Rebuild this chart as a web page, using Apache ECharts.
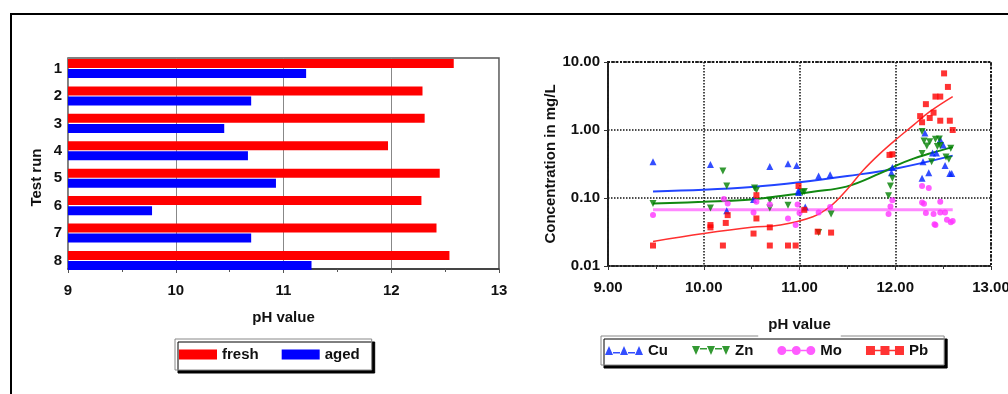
<!DOCTYPE html>
<html>
<head>
<meta charset="utf-8">
<script src="https://cdn.jsdelivr.net/npm/echarts@6/dist/echarts.min.js"></script>
<style>
  html, body { margin: 0; padding: 0; background: #fff; }
  #chart { width: 1008px; height: 394px; }
</style>
</head>
<body>
<div id="chart"></div>
<script>
  // left chart: pH per test run
  var runs = ['1', '2', '3', '4', '5', '6', '7', '8']
  var fresh = [12.58, 12.29, 12.31, 11.97, 12.45, 12.28, 12.42, 12.54]
  var aged = [11.21, 10.70, 10.45, 10.67, 10.93, 9.78, 10.70, 11.26]

  // right chart: [pH, mg/L]
  var cuPoints = [[9.47, 0.34], [10.07, 0.31], [10.24, 0.065], [10.52, 0.095], [10.69, 0.29], [10.88, 0.32],
    [10.97, 0.30], [10.99, 0.13], [10.99, 0.12], [11.06, 0.074], [11.2, 0.21], [11.32, 0.22], [11.97, 0.28],
    [11.96, 0.235], [12.29, 0.34], [12.28, 0.195], [12.31, 0.9], [12.35, 0.235], [12.39, 0.46], [12.43, 0.46],
    [12.47, 0.72], [12.52, 0.30], [12.57, 0.23], [12.59, 0.23], [12.5, 0.6]]
  var znPoints = [[9.47, 0.083], [10.07, 0.071], [10.2, 0.25], [10.24, 0.15], [10.53, 0.14], [10.55, 0.13],
    [10.69, 0.093], [10.69, 0.071], [10.88, 0.078], [11.03, 0.12], [11.05, 0.125], [11.2, 0.031], [11.33, 0.058],
    [11.93, 0.108], [11.95, 0.15], [11.97, 0.195], [12.28, 0.95], [12.28, 0.45], [12.3, 0.69], [12.33, 0.58],
    [12.36, 0.67], [12.38, 0.34], [12.42, 0.73], [12.44, 0.57], [12.46, 0.74], [12.47, 0.59], [12.53, 0.40],
    [12.56, 0.37], [12.58, 0.54]]
  var moPoints = [[9.47, 0.056], [10.21, 0.097], [10.25, 0.083], [10.52, 0.061], [10.55, 0.088], [10.69, 0.08],
    [10.88, 0.05], [10.96, 0.04], [10.98, 0.08], [11.0, 0.06], [11.2, 0.061], [11.32, 0.074], [11.93, 0.058],
    [11.95, 0.075], [11.97, 0.093], [12.28, 0.15], [12.35, 0.14], [12.28, 0.086], [12.3, 0.082], [12.32, 0.06],
    [12.4, 0.058], [12.41, 0.041], [12.42, 0.04], [12.47, 0.088], [12.47, 0.061], [12.52, 0.061], [12.54, 0.048],
    [12.58, 0.044], [12.6, 0.046]]
  var pbPoints = [[9.47, 0.020], [10.07, 0.040], [10.07, 0.037], [10.2, 0.020], [10.23, 0.043], [10.25, 0.056],
    [10.52, 0.030], [10.55, 0.05], [10.55, 0.11], [10.69, 0.037], [10.69, 0.020], [10.88, 0.020], [10.96, 0.020],
    [10.99, 0.15], [11.05, 0.067], [11.19, 0.032], [11.33, 0.031], [11.94, 0.43], [11.97, 0.44], [12.26, 1.6],
    [12.28, 1.3], [12.32, 2.4], [12.36, 1.5], [12.4, 1.8], [12.42, 3.1], [12.47, 3.1], [12.47, 1.37], [12.51, 6.8],
    [12.55, 4.3], [12.57, 1.37], [12.6, 1.0]]

  // trend curves
  var cuFit = [[9.47, 0.125], [10, 0.132], [10.5, 0.145], [11, 0.17], [11.5, 0.21], [12, 0.27], [12.6, 0.42]]
  var znFit = [[9.47, 0.083], [10, 0.088], [10.5, 0.095], [10.8, 0.107], [11.14, 0.124], [11.49, 0.147],
    [11.84, 0.23], [12.02, 0.305], [12.19, 0.38], [12.36, 0.45], [12.6, 0.56]]
  var moFit = [[9.47, 0.067], [12.6, 0.067]]
  var pbFit = [[9.47, 0.023], [10, 0.030], [10.5, 0.037], [10.8, 0.040], [11.14, 0.053], [11.32, 0.075],
    [11.49, 0.13], [11.67, 0.26], [11.84, 0.45], [12.02, 0.75], [12.19, 1.18], [12.36, 1.86], [12.6, 3.1]]

  var font = '"Liberation Sans", Arial, sans-serif'
  var bold = { fontFamily: font, fontWeight: 'bold', fontSize: 15, color: '#111' }

  // legend icons: three markers joined by a line
  var iconUp = 'path://M0,10L4,1L8,10Z M15,10L19,1L23,10Z M30,10L34,1L38,10Z M8,7L15,7L15,8.5L8,8.5Z M23,7L30,7L30,8.5L23,8.5Z'
  var iconDown = 'path://M0,0L8,0L4,9Z M15,0L23,0L19,9Z M30,0L38,0L34,9Z M8,2L15,2L15,3.5L8,3.5Z M23,2L30,2L30,3.5L23,3.5Z'
  var iconDot = 'path://M0,5a4.5,4.5 0 1,1 9,0a4.5,4.5 0 1,1 -9,0Z M14.5,5a4.5,4.5 0 1,1 9,0a4.5,4.5 0 1,1 -9,0Z M29,5a4.5,4.5 0 1,1 9,0a4.5,4.5 0 1,1 -9,0Z M9,4.3L14.5,4.3L14.5,5.7L9,5.7Z M23.5,4.3L29,4.3L29,5.7L23.5,5.7Z'
  var iconSq = 'path://M0,0.5L9,0.5L9,9.5L0,9.5Z M14.5,0.5L23.5,0.5L23.5,9.5L14.5,9.5Z M29,0.5L38,0.5L38,9.5L29,9.5Z M9,4.3L14.5,4.3L14.5,5.7L9,5.7Z M23.5,4.3L29,4.3L29,5.7L23.5,5.7Z'

  var legendBox = {
    orient: 'horizontal',
    itemWidth: 38,
    itemHeight: 10,
    backgroundColor: '#fff',
    borderColor: '#888',
    borderWidth: 1,
    shadowColor: '#000',
    shadowBlur: 0,
    shadowOffsetX: 3,
    shadowOffsetY: 3,
    textStyle: bold,
    selectedMode: false
  }

  var chart = echarts.init(document.getElementById('chart'))
  chart.setOption({
    animation: false,
    backgroundColor: '#fff',
    graphic: [{
      type: 'rect',
      silent: true,
      shape: { x: 11, y: 14, width: 1200, height: 600 },
      style: { fill: null, stroke: '#000', lineWidth: 2 }
    }],
    grid: [
      // bars
      { left: 68, right: 509, top: 54.8, bottom: 119.8, outerBoundsMode: 'none' },
      // frame of the bar chart
      { left: 68, right: 509, top: 58, bottom: 125, show: true, borderColor: '#555', borderWidth: 1.5, outerBoundsMode: 'none' },
      // concentration chart
      { left: 608, right: 17, top: 62, bottom: 128, show: true, borderColor: '#222', borderWidth: 2, borderType: 'dotted', outerBoundsMode: 'none' }
    ],
    legend: [
      Object.assign({}, legendBox, {
        left: 175, top: 339, padding: [8, 12, 8, 4], itemGap: 23,
        data: [{ name: 'fresh', icon: 'rect' }, { name: 'aged', icon: 'rect' }]
      }),
      Object.assign({}, legendBox, {
        left: 601, top: 336, padding: [7, 16, 7, 4], itemGap: 24,
        data: [
          { name: 'Cu', icon: iconUp },
          { name: 'Zn', icon: iconDown },
          { name: 'Mo', icon: iconDot },
          { name: 'Pb', icon: iconSq }
        ]
      })
    ],
    xAxis: [
      { gridIndex: 0, type: 'value', min: 9, max: 13, show: false },
      {
        gridIndex: 1, type: 'value', min: 9, max: 13, interval: 1,
        axisLine: { show: true, lineStyle: { color: '#333', width: 1.5 } },
        axisTick: { show: true, length: 4, lineStyle: { color: '#555' } },
        minorTick: { show: true, splitNumber: 2, length: 3, lineStyle: { color: '#555' } },
        splitLine: { show: true, lineStyle: { color: '#888', width: 1 } },
        axisLabel: Object.assign({ margin: 14 }, bold),
        name: 'pH value', nameLocation: 'middle', nameGap: 41, nameTextStyle: bold
      },
      {
        gridIndex: 2, type: 'value', min: 9, max: 13, interval: 1, z: 5,
        axisLine: { show: true, lineStyle: { color: '#222', width: 2, type: 'dotted' } },
        axisTick: { show: true, length: 4, lineStyle: { color: '#333' } },
        minorTick: { show: true, splitNumber: 2, length: 3, lineStyle: { color: '#333' } },
        splitLine: { show: true, lineStyle: { color: '#111', width: 1.5, type: 'dotted' } },
        axisLabel: Object.assign({ margin: 14, formatter: function (v) { return v.toFixed(2) } }, bold),
        name: 'pH value', nameLocation: 'middle', nameGap: 49.5,
        nameTextStyle: Object.assign({ backgroundColor: '#fff', padding: [2, 10, 5, 10] }, bold)
      }
    ],
    yAxis: [
      {
        gridIndex: 0, type: 'category', data: runs, inverse: true,
        axisLine: { show: false }, axisTick: { show: false },
        axisLabel: Object.assign({ margin: 6 }, bold),
        name: 'Test run', nameLocation: 'middle', nameGap: 24,
        nameTextStyle: Object.assign({ padding: [0, 26, 0, 0] }, bold)
      },
      { gridIndex: 1, type: 'value', min: 0, max: 1, show: false },
      {
        gridIndex: 2, type: 'log', logBase: 10, min: 0.01, max: 10, z: 5,
        axisLine: { show: true, lineStyle: { color: '#222', width: 2, type: 'dotted' } },
        axisTick: { show: true, length: 4, lineStyle: { color: '#333' } },
        splitLine: { show: true, lineStyle: { color: '#111', width: 1.5, type: 'dotted' } },
        axisLabel: Object.assign({ margin: 8, formatter: function (v) { return v.toFixed(2) } }, bold),
        name: 'Concentration in mg/L', nameLocation: 'middle', nameGap: 47.5, nameTextStyle: bold
      }
    ],
    series: [
      { name: 'fresh', type: 'bar', xAxisIndex: 0, yAxisIndex: 0, data: fresh, barWidth: 9, barGap: '12%', itemStyle: { color: '#ff0000' } },
      { name: 'aged', type: 'bar', xAxisIndex: 0, yAxisIndex: 0, data: aged, barWidth: 9, barGap: '12%', itemStyle: { color: '#0000ff' } },

      { name: 'Cu', type: 'scatter', xAxisIndex: 2, yAxisIndex: 2, z: 7, data: cuPoints, symbol: 'triangle', symbolSize: 7, itemStyle: { color: '#0022ff' } },
      { name: 'Zn', type: 'scatter', xAxisIndex: 2, yAxisIndex: 2, z: 7, data: znPoints, symbol: 'triangle', symbolRotate: 180, symbolSize: 7, itemStyle: { color: '#008000' } },
      { name: 'Mo', type: 'scatter', xAxisIndex: 2, yAxisIndex: 2, z: 7, data: moPoints, symbol: 'circle', symbolSize: 6, itemStyle: { color: '#ff33ff' } },
      { name: 'Pb', type: 'scatter', xAxisIndex: 2, yAxisIndex: 2, z: 7, data: pbPoints, symbol: 'rect', symbolSize: 6, itemStyle: { color: '#ff0000' } },

      { name: 'Cu', type: 'line', xAxisIndex: 2, yAxisIndex: 2, z: 6, data: cuFit, smooth: 0.4, showSymbol: false, lineStyle: { color: '#2244ff', width: 2 } },
      { name: 'Zn', type: 'line', xAxisIndex: 2, yAxisIndex: 2, z: 6, data: znFit, smooth: 0.4, showSymbol: false, lineStyle: { color: '#118811', width: 2 } },
      { name: 'Mo', type: 'line', xAxisIndex: 2, yAxisIndex: 2, z: 6, data: moFit, showSymbol: false, lineStyle: { color: '#ff88ff', width: 3 } },
      { name: 'Pb', type: 'line', xAxisIndex: 2, yAxisIndex: 2, z: 6, data: pbFit, smooth: 0.4, showSymbol: false, lineStyle: { color: '#ff3030', width: 1.5 } }
    ]
  })
</script>
</body>
</html>
